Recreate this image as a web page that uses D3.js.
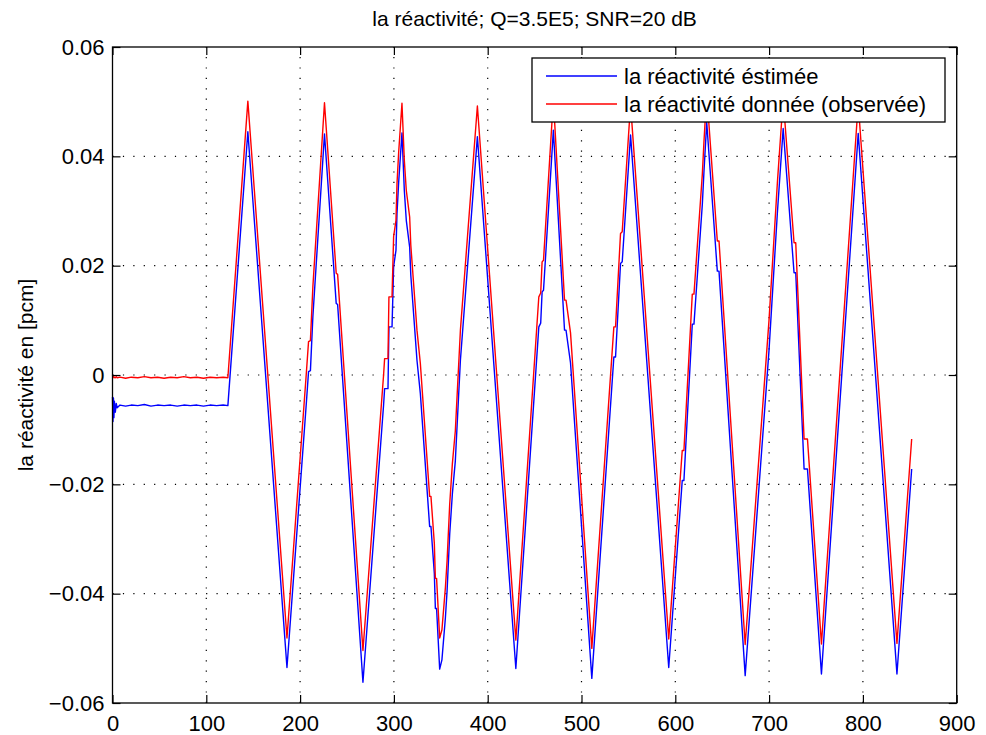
<!DOCTYPE html>
<html>
<head>
<meta charset="utf-8">
<script src="https://cdn.jsdelivr.net/npm/d3@7"></script>
<style>
  body { margin: 0; background: #fff; }
  svg text { font-family: "Liberation Sans", Arial, sans-serif; fill: #000; }
</style>
</head>
<body>
<div id="chart-line"></div>
<script>

// sample positions (time), shared by both curves
var sampleX = [
  0, 0.5, 1, 1.5, 2, 3, 4, 5, 8, 14, 20, 27, 34, 41, 48, 55, 62, 69, 76, 83, 90, 97, 104, 111, 118, 123,
  144.3, 186,
  206.5, 209, 211, 213.6, 226,
  238.5, 240, 267,
  289.0, 290.1, 293.7, 294.7, 298.0, 299.7, 302.2, 303.3, 305.1, 308.6,
  311.1, 313.2, 316.8, 318.0, 324.6, 328.2, 338.1, 339.5, 343.1, 344.2, 345.5, 348.8,
  351.2, 354.9, 356.7, 359.5, 362.3, 365.5, 370.9, 389,
  430,
  454.5, 456.5, 458.0, 459.5, 470,
  481.9, 483.5, 488.3, 511,
  534.5, 536.3, 541.6, 543.4, 552.3,
  593,
  607.4, 609.2, 618.1, 619.9, 628.8, 630.5, 633.5,
  644.8, 646.6, 674.5,
  699.9, 708.8, 715,
  726.6, 728.4, 737.3, 740.9, 755.8,
  795, 836.3, 852
];

// la réactivité donnée (observée) - red
var reactObs = [
  0.0000, -0.0004, -0.0003, -0.0005, -0.0004, -0.0005, -0.0003, -0.0005, -0.0004, -0.0006, -0.0004, -0.0005, -0.0003,
  -0.0005, -0.0004, -0.0006, -0.0004, -0.0005, -0.0003, -0.0005, -0.0004, -0.0006, -0.0004, -0.0005, -0.0004, -0.0005,
  0.0501, -0.0481,
  0.0000, 0.0061, 0.0063, 0.0161, 0.0498,
  0.0186, 0.0184, -0.0504,
  0.0000, 0.0030, 0.0030, 0.0143, 0.0143, 0.0253, 0.0283, 0.0350, 0.0408, 0.0497,
  0.0393, 0.0338, 0.0289, 0.0238, 0.0082, 0.0021, -0.0222, -0.0222, -0.0308, -0.0372, -0.0372, -0.0481,
  -0.0466, -0.0389, -0.0340, -0.0236, -0.0163, -0.0102, 0.0082, 0.0492,
  -0.0485,
  0.0143, 0.0150, 0.0207, 0.0210, 0.0505,
  0.0137, 0.0137, 0.0077, -0.0500,
  0.0088, 0.0088, 0.0259, 0.0262, 0.0495,
  -0.0483,
  -0.0138, -0.0138, 0.0148, 0.0148, 0.0367, 0.0425, 0.0515,
  0.0245, 0.0245, -0.0493,
  0.0100, 0.0351, 0.0505,
  0.0242, 0.0242, -0.0117, -0.0117, -0.0492,
  0.0497, -0.0491, -0.0117
];

// la réactivité éstimée - blue
var reactEst = [
  -0.0040, -0.0085, -0.0042, -0.0078, -0.0048, -0.0068, -0.0052, -0.0060, -0.0055, -0.0057, -0.0055, -0.0056, -0.0054,
  -0.0057, -0.0055, -0.0056, -0.0055, -0.0057, -0.0055, -0.0056, -0.0055, -0.0057, -0.0055, -0.0056, -0.0055, -0.0056,
  0.0445, -0.0535,
  -0.0055, 0.0006, 0.0008, 0.0106, 0.0441,
  0.0131, 0.0129, -0.0562,
  -0.0055, -0.0025, -0.0025, 0.0088, 0.0088, 0.0198, 0.0228, 0.0295, 0.0353, 0.0443,
  0.0338, 0.0283, 0.0234, 0.0183, 0.0027, -0.0034, -0.0277, -0.0277, -0.0363, -0.0427, -0.0427, -0.0538,
  -0.0521, -0.0444, -0.0395, -0.0291, -0.0218, -0.0157, 0.0027, 0.0436,
  -0.0537,
  0.0088, 0.0095, 0.0152, 0.0155, 0.0448,
  0.0082, 0.0082, 0.0022, -0.0555,
  0.0033, 0.0033, 0.0204, 0.0207, 0.0439,
  -0.0535,
  -0.0193, -0.0193, 0.0093, 0.0093, 0.0312, 0.0370, 0.0462,
  0.0190, 0.0190, -0.0550,
  0.0045, 0.0296, 0.0451,
  0.0187, 0.0187, -0.0172, -0.0172, -0.0547,
  0.0442, -0.0547, -0.0172
];

// axis ticks and texts
var xTicks = [0, 100, 200, 300, 400, 500, 600, 700, 800, 900];
var yTicks = [-0.06, -0.04, -0.02, 0, 0.02, 0.04, 0.06];
var titleText = "la réactivité; Q=3.5E5; SNR=20 dB";
var yLabelText = "la réactivité en [pcm]";
var legendNames = ["la réactivité éstimée", "la réactivité donnée (observée)"];
var legendColors = ["#0000ff", "#ff0000"];

drawGraph();

function drawGraph() {

    // set the dimensions and margins of the graph
    var margin = {top: 47, right: 29.3, bottom: 32, left: 112.5};
    var width = 986 - margin.left - margin.right;
    var height = 735 - margin.top - margin.bottom;

    // set the ranges
    var x = d3.scaleLinear().domain([0, 900]).range([0, width]);
    var y = d3.scaleLinear().domain([-0.06, 0.06]).range([height, 0]);

    var data = sampleX.map(function(t, i) {
        return {t: t, obs: reactObs[i], est: reactEst[i]};
    });

    // define the lines
    var estLine = d3.line()
        .x(function(d) { return x(d.t); })
        .y(function(d) { return y(d.est); });

    var obsLine = d3.line()
        .x(function(d) { return x(d.t); })
        .y(function(d) { return y(d.obs); });

    var root = d3.select("#chart-line").append("svg")
        .attr("width", 986)
        .attr("height", 735);

    var svg = root.append("g")
        .attr("transform", "translate(" + margin.left + "," + margin.top + ")");

    // dotted grid
    var grid = svg.append("g")
        .attr("stroke", "#000")
        .attr("stroke-width", 1.2)
        .attr("stroke-dasharray", "1.2,9.2");
    grid.selectAll(".vgrid")
        .data(xTicks.slice(1, -1))
      .enter().append("line")
        .attr("x1", function(d) { return x(d); })
        .attr("x2", function(d) { return x(d); })
        .attr("y1", height)
        .attr("y2", 0);
    grid.selectAll(".hgrid")
        .data(yTicks.slice(1, -1))
      .enter().append("line")
        .attr("x1", 0)
        .attr("x2", width)
        .attr("y1", function(d) { return y(d); })
        .attr("y2", function(d) { return y(d); });

    // the two curves, red on top
    svg.append("path")
        .datum(data)
        .attr("fill", "none")
        .attr("stroke", legendColors[0])
        .attr("stroke-width", 1.4)
        .attr("stroke-linejoin", "round")
        .attr("d", estLine);

    svg.append("path")
        .datum(data)
        .attr("fill", "none")
        .attr("stroke", legendColors[1])
        .attr("stroke-width", 1.4)
        .attr("stroke-linejoin", "round")
        .attr("d", obsLine);

    // axes, ticks inward on every side
    var fmt = function(d) { return d === 0 ? "0" : d3.format(".2f")(d); };

    var xAxis = svg.append("g")
        .attr("transform", "translate(0," + height + ")")
        .call(d3.axisBottom(x).tickValues(xTicks).tickSize(-8).tickSizeOuter(0).tickPadding(12));
    var yAxis = svg.append("g")
        .call(d3.axisLeft(y).tickValues(yTicks).tickFormat(fmt).tickSize(-8).tickSizeOuter(0).tickPadding(8));
    svg.append("g")
        .call(d3.axisTop(x).tickValues(xTicks).tickSize(-8).tickSizeOuter(0).tickFormat(""));
    svg.append("g")
        .attr("transform", "translate(" + width + ",0)")
        .call(d3.axisRight(y).tickValues(yTicks).tickSize(-8).tickSizeOuter(0).tickFormat(""));

    svg.selectAll(".tick line").attr("stroke", "#000").attr("stroke-width", 1.2);
    svg.selectAll(".domain").remove();
    [xAxis, yAxis].forEach(function(a) {
        a.selectAll("text")
            .style("font-family", "'Liberation Sans', Arial, sans-serif")
            .style("font-size", "22px")
            .attr("fill", "#000");
    });

    // box
    svg.append("rect")
        .attr("width", width)
        .attr("height", height)
        .attr("fill", "none")
        .attr("stroke", "#000")
        .attr("stroke-width", 1.3);

    // title
    root.append("text")
        .attr("x", margin.left + width / 2)
        .attr("y", 26)
        .attr("text-anchor", "middle")
        .style("font-size", "21px")
        .text(titleText);

    // y label
    root.append("text")
        .attr("transform", "translate(33," + (margin.top + height / 2) + ") rotate(-90)")
        .attr("text-anchor", "middle")
        .style("font-size", "21px")
        .text(yLabelText);

    // legend
    var legend = root.append("g").attr("transform", "translate(532,58)");
    legend.append("rect")
        .attr("width", 413)
        .attr("height", 64)
        .attr("fill", "#fff")
        .attr("stroke", "#000")
        .attr("stroke-width", 1.3);
    legendNames.forEach(function(name, i) {
        var ly = 18 + i * 28;
        legend.append("line")
            .attr("x1", 14)
            .attr("x2", 85)
            .attr("y1", ly)
            .attr("y2", ly)
            .attr("stroke", legendColors[i])
            .attr("stroke-width", 1.4);
        legend.append("text")
            .attr("x", 92)
            .attr("y", ly + 8)
            .style("font-size", "22px")
            .text(name);
    });
}

</script>
</body>
</html>
